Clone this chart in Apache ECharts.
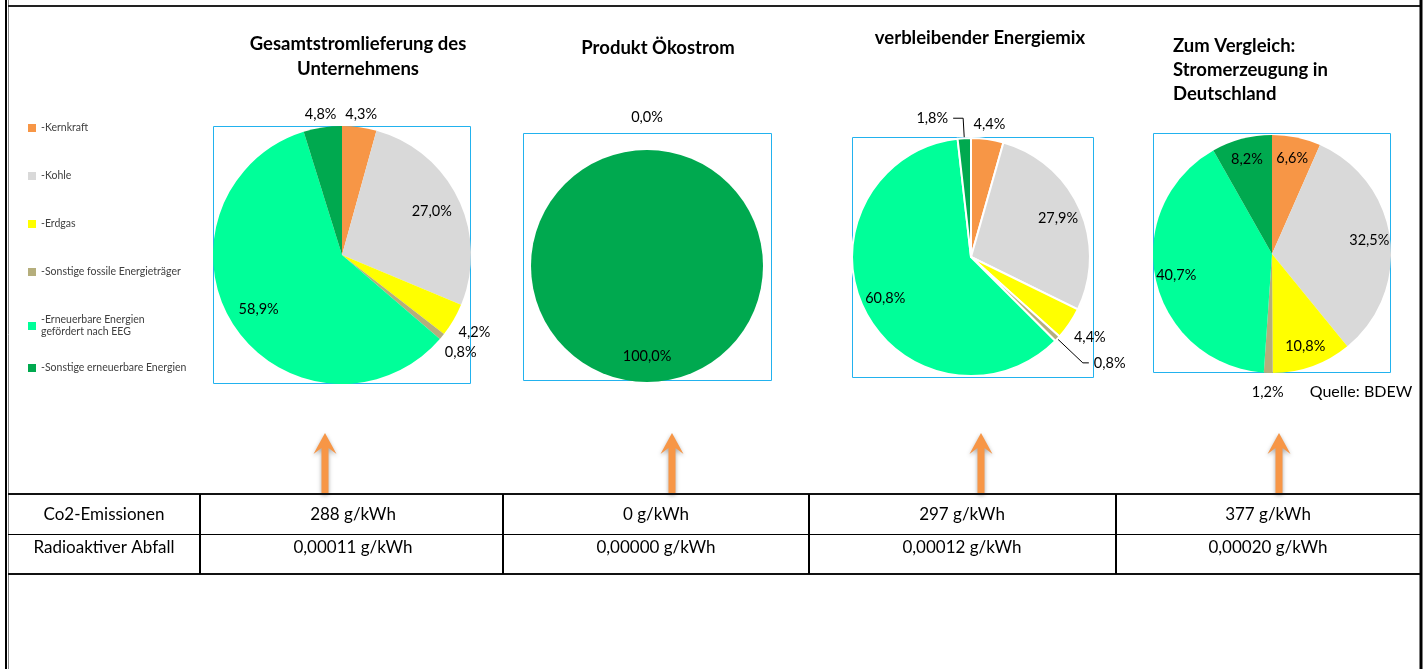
<!DOCTYPE html>
<html><head><meta charset="utf-8">
<script src="https://cdn.jsdelivr.net/npm/echarts@6/dist/echarts.min.js"></script>
<style>html,body{margin:0;padding:0;background:#fff}#c{width:1426px;height:669px}</style>
</head><body><div id="c"></div>
<script>
// ---- data ----
const categories = ['Kernkraft', 'Kohle', 'Erdgas', 'Sonstige fossile Energieträger',
  'Erneuerbare Energien gefördert nach EEG', 'Sonstige erneuerbare Energien'];
const pieTitles = ['Gesamtstromlieferung des\nUnternehmens', 'Produkt Ökostrom',
  'verbleibender Energiemix', 'Zum Vergleich:\nStromerzeugung in\nDeutschland'];
const gesamt = [4.3, 27.0, 4.2, 0.8, 58.9, 4.8];
const oekostrom = [0.0, 0.0, 0.0, 0.0, 0.0, 100.0];
const restmix = [4.4, 27.9, 4.4, 0.8, 60.8, 1.8];
const deutschland = [6.6, 32.5, 10.8, 1.2, 40.7, 8.2];
const tableRows = ['Co2-Emissionen', 'Radioaktiver Abfall'];
const co2 = ['288 g/kWh', '0 g/kWh', '297 g/kWh', '377 g/kWh'];
const abfall = ['0,00011 g/kWh', '0,00000 g/kWh', '0,00012 g/kWh', '0,00020 g/kWh'];
const sourceNote = 'Quelle: BDEW';

// ---- styles / layout ----
const colors = ['#F79646', '#D9D9D9', '#FFFF00', '#B5AE7C', '#00FF99', '#00A94F'];
const FONT = 'Lato, "Liberation Sans", sans-serif';
const fmt = v => v.toFixed(1).replace('.', ',') + '%';

// label ring per placement code: [inner factor, outer factor] of radius
const pieLayouts = [
  { values: gesamt, center: [342, 255], r: 129,
    rings: { in: [0.5, 1], out: [1, 1.16], far: [1, 1.33] },
    place: ['out', 'in', 'far', 'far', 'in', 'out'], border: 0, box: [213, 126, 257, 257],
    title: { x: 358, y: 57, align: 'center' }, arrowX: 325 },
  { values: oekostrom, center: [647, 266], r: 116,
    rings: { in: [0.5, 1], out: [1, 1.52] },
    place: ['out', 'none', 'none', 'none', 'none', 'in'], border: 0, box: [523, 133, 248, 247],
    title: { x: 658, y: 48, align: 'center' }, arrowX: 672 },
  { values: restmix, center: [971, 257], r: 119,
    rings: { in: [0.55, 1], out: [1, 1.2], far: [1, 1.36] },
    place: ['out', 'in', 'far', 'lead', 'in', 'lead'], border: 2, box: [852, 137, 241, 240],
    lead: { 3: [35, 6], 5: [20, 10] },
    title: { x: 980, y: 38, align: 'center' }, arrowX: 981 },
  { values: deutschland, center: [1272, 254], r: 119,
    rings: { in: [0.6, 1], out: [1, 1.28] },
    place: ['in', 'in', 'in', 'out', 'in', 'in'], border: 0, box: [1153, 133, 237, 239],
    title: { x: 1173, y: 70, align: 'left' }, arrowX: 1279 }
];

const labelStyle = { formatter: p => fmt(p.value), fontSize: 14.5, fontFamily: FONT, color: '#000' };

const series = [];
pieLayouts.forEach(p => {
  const base = { type: 'pie', center: p.center, startAngle: 90, clockwise: true,
    avoidLabelOverlap: false, silent: true, emphasis: { disabled: true }, animation: false };
  series.push(Object.assign({}, base, {
    radius: [0, p.r], z: 2,
    itemStyle: { borderColor: '#fff', borderWidth: p.border },
    label: Object.assign({ show: false, position: 'outside' }, labelStyle),
    labelLine: { show: false },
    data: p.values.map((v, k) => {
      const d = { name: categories[k], value: v, itemStyle: { color: colors[k] } };
      if (p.place[k] === 'lead') {
        d.label = { show: true, position: 'outside' };
        d.labelLine = { show: true, length: p.lead[k][0], length2: p.lead[k][1],
          lineStyle: { color: '#000', width: 1 } };
      }
      return d;
    })
  }));
  Object.keys(p.rings).forEach(code => {
    const f = p.rings[code];
    series.push(Object.assign({}, base, {
      radius: [p.r * f[0], p.r * f[1]], z: 3,
      itemStyle: { color: 'rgba(0,0,0,0)', borderWidth: 0 },
      label: Object.assign({ show: false, position: 'inside' }, labelStyle),
      labelLine: { show: false },
      data: p.values.map((v, k) => ({ name: categories[k], value: v, label: { show: p.place[k] === code } }))
    }));
  });
});

// ---- graphics (frame, boxes, titles, arrows, table) ----
const g = [];
const line = (x1, y1, x2, y2, w, c) => g.push({ type: 'line', z: 10, silent: true,
  shape: { x1, y1, x2, y2 }, style: { stroke: c || '#000', lineWidth: w || 1 } });
const text = (x, y, t, opts) => g.push({ type: 'text', z: 10, silent: true, x, y,
  style: Object.assign({ text: t, fill: '#000', fontFamily: FONT, fontSize: 17,
    align: 'center', verticalAlign: 'middle' }, opts || {}) });

// page frame
line(6, 0, 6, 669, 2, '#000');
line(8.5, 0, 8.5, 669, 1, '#888');
line(8, 6, 1420, 6, 2, '#222');
line(1421, 0, 1421, 669, 3, '#000');

pieLayouts.forEach((p, i) => {
  g.push({ type: 'rect', z: 1, silent: true,
    shape: { x: p.box[0] + 0.5, y: p.box[1] + 0.5, width: p.box[2], height: p.box[3] },
    style: { fill: 'none', stroke: '#22B2EE', lineWidth: 1 } });
  const lh = p.title.align === 'center' ? 25 : 24;
  text(p.title.x, p.title.y, pieTitles[i], { fontWeight: 'bold', fontSize: 18.5, lineHeight: lh, align: p.title.align });
  g.push({ type: 'polygon', z: 9, silent: true, x: p.arrowX, y: 433,
    shape: { points: [[0, 0], [11.5, 21], [3.5, 15], [3.5, 60], [-3.5, 60], [-3.5, 15], [-11.5, 21]] },
    style: { fill: '#F79646', shadowBlur: 4, shadowColor: 'rgba(0,0,0,0.35)', shadowOffsetY: 2 } });
});

text(1361, 392, sourceNote, { fontSize: 16 });

// table
line(8, 494, 1420, 494, 2, '#111');
line(8, 534.5, 1420, 534.5, 1, '#000');
line(8, 574, 1420, 574, 2, '#111');
const colX = [200, 503, 809, 1116];
colX.forEach(x => line(x, 494, x, 574, 2, '#000'));
const colCenters = [353, 656, 962, 1268];
text(104, 515, tableRows[0]);
text(104, 548, tableRows[1]);
co2.forEach((t, i) => text(colCenters[i], 515, t));
abfall.forEach((t, i) => text(colCenters[i], 548, t));

const legendBase = { orient: 'vertical', left: 23, itemWidth: 8, itemHeight: 8, itemGap: 36,
  icon: 'rect', selectedMode: false,
  formatter: n => '-' + n.replace('Energien gefördert', 'Energien\ngefördert'),
  textStyle: { fontSize: 10.5, lineHeight: 12, color: '#404040', fontFamily: FONT } };

const option = {
  backgroundColor: '#fff',
  animation: false,
  legend: [
    Object.assign({}, legendBase, { top: 117, data: categories.slice(0, 5) }),
    Object.assign({}, legendBase, { top: 357, data: categories.slice(5) })
  ],
  series: series,
  graphic: g
};

const chart = echarts.init(document.getElementById('c'));
chart.setOption(option);
</script>
</body></html>
